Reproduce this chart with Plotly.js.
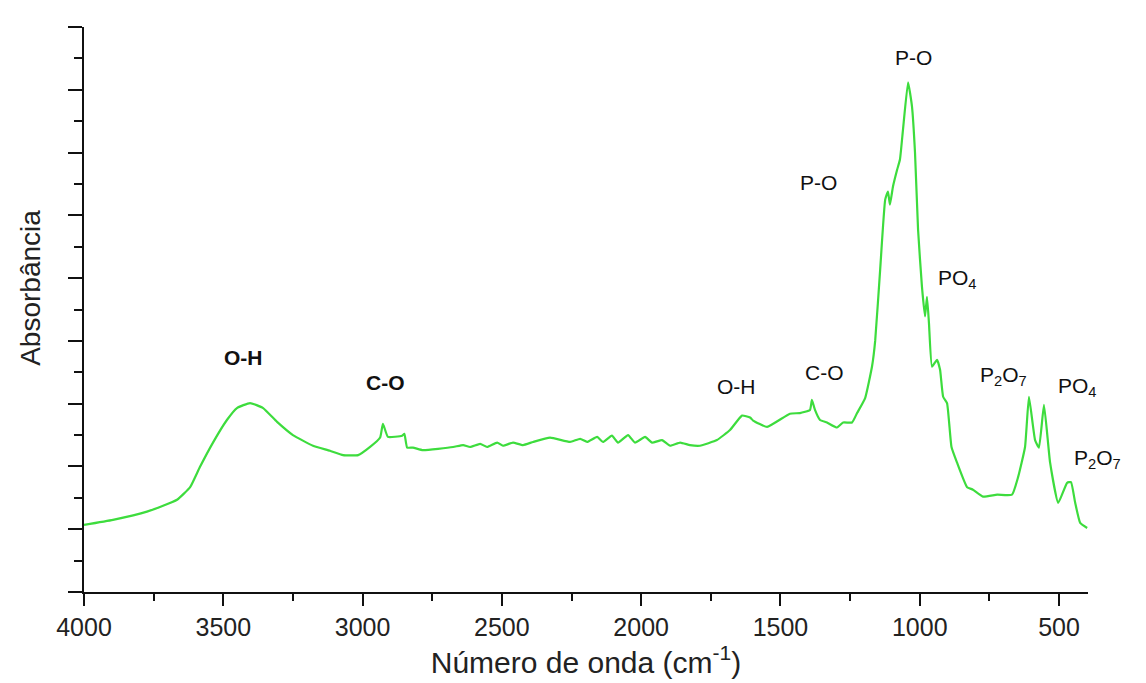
<!DOCTYPE html>
<html>
<head>
<meta charset="utf-8">
<script src="https://cdn.plot.ly/plotly-3.0.1.min.js"></script>
<style>html,body{margin:0;padding:0;background:#fff;}#chart{width:1146px;height:683px;}</style>
</head>
<body>
<div id="chart"></div>
<script>
// Wavenumber (cm-1) and absorbance (arbitrary units)
const wavenumber = [4000,3896,3774,3666,3619,3584,3537,3487,3451,3404,3357,3307,3250,3178,3117,3070,3016,2973,2937,2927,2909,2858,2850,2840,2819,2783,2675,2639,2614,2578,2553,2517,2496,2460,2424,2388,2327,2255,2219,2194,2158,2137,2105,2083,2047,2022,1986,1961,1925,1896,1860,1825,1789,1728,1681,1638,1609,1598,1548,1466,1430,1394,1387,1376,1358,1333,1297,1275,1243,1225,1196,1171,1160,1142,1124,1114,1107,1096,1081,1071,1060,1042,1028,1017,1006,992,981,974,967,956,938,927,916,902,886,866,830,809,773,722,669,647,622,608,586,572,554,532,503,471,457,442,424,399];
const absorbance = [1.07,1.15,1.28,1.47,1.67,1.99,2.38,2.74,2.93,3.01,2.93,2.71,2.50,2.33,2.25,2.18,2.18,2.31,2.46,2.68,2.47,2.49,2.52,2.30,2.30,2.26,2.31,2.34,2.31,2.36,2.31,2.38,2.33,2.38,2.34,2.39,2.46,2.39,2.44,2.39,2.47,2.39,2.49,2.38,2.50,2.38,2.47,2.38,2.42,2.33,2.38,2.34,2.33,2.42,2.58,2.81,2.78,2.73,2.63,2.84,2.85,2.90,3.06,2.90,2.74,2.70,2.62,2.70,2.70,2.85,3.09,3.60,4.00,5.14,6.25,6.38,6.17,6.46,6.73,6.89,7.37,8.12,7.74,7.00,5.77,4.86,4.39,4.70,4.29,3.59,3.70,3.54,3.11,3.01,2.31,2.06,1.67,1.63,1.52,1.55,1.55,1.83,2.31,3.11,2.42,2.30,2.98,2.06,1.42,1.74,1.75,1.42,1.10,1.02];

// Band labels (the last one sits just past the right end of the axis)
const labelText = ["<b>O-H</b>","<b>C-O</b>","O-H","C-O","P-O","P-O","PO<sub>4</sub>","P<sub>2</sub>O<sub>7</sub>","PO<sub>4</sub>","P<sub>2</sub>O<sub>7</sub>"];
const labelX = [3429,2919,1656,1343,1365,1024,866,701,435,363];
const labelY = [3.73,3.33,3.27,3.49,6.52,8.52,4.98,3.44,3.27,2.12];

const xTicks = [4000,3500,3000,2500,2000,1500,1000,500];
const xRange = [4000,396];

const annotations = labelText.map((t,i)=>{
  const inside = labelX[i] >= xRange[1];
  return {
    x: inside ? labelX[i] : (xRange[0]-labelX[i])/(xRange[0]-xRange[1]),
    xref: inside ? 'x' : 'paper',
    y: labelY[i], yref:'y', text: t, showarrow:false,
    font:{family:'Liberation Sans, Arial, sans-serif', size:21, color:'#111'},
    xanchor:'center', yanchor:'middle'
  };
});
annotations.push({
  xref:'paper', yref:'paper', x:-0.054, y:0.538, xanchor:'center', yanchor:'middle',
  text:'Absorbância', textangle:-90, showarrow:false,
  font:{family:'Liberation Sans, Arial, sans-serif', size:28, color:'#222'}
});

const trace = {
  x: wavenumber, y: absorbance, type:'scatter', mode:'lines',
  line:{color:'#3ddc3d', width:2.2, shape:'spline', smoothing:0.4},
  hoverinfo:'skip'
};

const layout = {
  width:1146, height:683,
  margin:{l:84, r:58, t:27, b:91},
  paper_bgcolor:'#fff', plot_bgcolor:'#fff',
  showlegend:false,
  font:{family:'Liberation Sans, Arial, sans-serif', color:'#222'},
  xaxis:{
    range:xRange, autorange:false,
    tickvals:xTicks, ticktext:xTicks.map(String),
    ticks:'outside', ticklen:12, tickwidth:2, tickcolor:'#111',
    minor:{dtick:250, tick0:0, ticks:'outside', ticklen:7, tickwidth:2, tickcolor:'#111'},
    showline:true, linecolor:'#111', linewidth:2,
    showgrid:false, zeroline:false,
    tickfont:{size:25, color:'#222'},
    title:{text:'Número de onda (cm<sup>-1</sup>)', font:{size:30, color:'#222'}, standoff:10}
  },
  yaxis:{
    range:[0,9], autorange:false,
    tickvals:[0,1,2,3,4,5,6,7,8,9], showticklabels:false,
    ticks:'outside', ticklen:14, tickwidth:2, tickcolor:'#111',
    minor:{dtick:0.5, tick0:0, ticks:'outside', ticklen:8, tickwidth:2, tickcolor:'#111'},
    showline:true, linecolor:'#111', linewidth:2,
    showgrid:false, zeroline:false
  },
  annotations: annotations
};

Plotly.newPlot('chart', [trace], layout, {displayModeBar:false, staticPlot:true});
</script>
</body>
</html>
